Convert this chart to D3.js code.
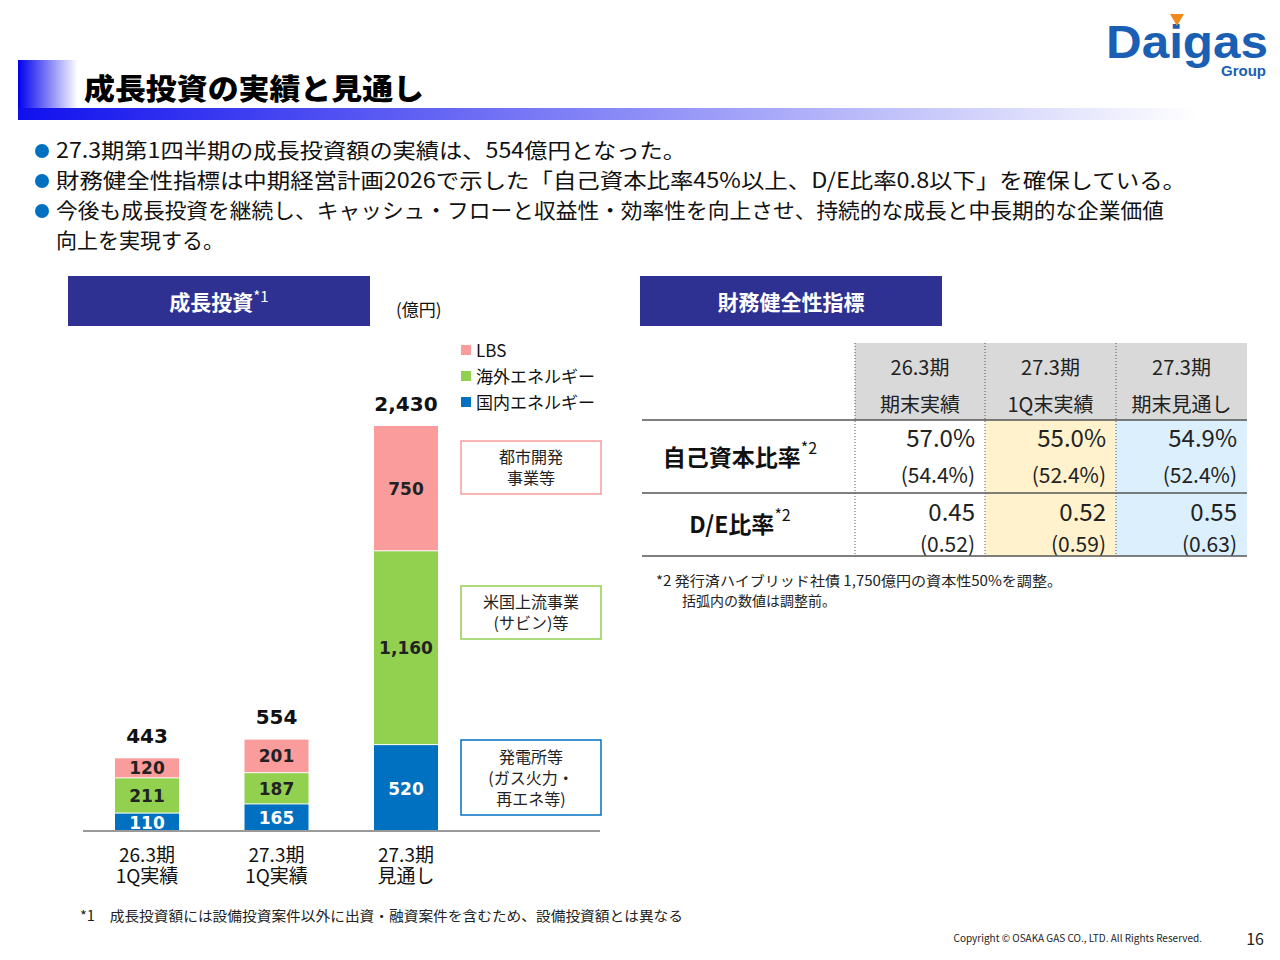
<!DOCTYPE html>
<html><head><meta charset="utf-8">
<script src="https://cdn.jsdelivr.net/npm/d3@7"></script>
<style>body{margin:0;background:#fff}svg{font-family:"Noto Sans CJK JP","Noto Sans",sans-serif}</style>
</head><body><svg id="c" width="1280" height="960"></svg>
<script>
const categories=[["26.3期","1Q実績"],["27.3期","1Q実績"],["27.3期","見通し"]];
const seriesNames=["国内エネルギー","海外エネルギー","LBS"];
const domestic=[110,165,520];
const overseas=[211,187,1160];
const lbs=[120,201,750];
const totals=[443,554,2430];
const colors=["#0070c0","#92d050","#fa9c9c"];
const tableCols=[["26.3期","期末実績"],["27.3期","1Q末実績"],["27.3期","期末見通し"]];
const equityRatio=["57.0%","55.0%","54.9%"];
const equityRatioRaw=["(54.4%)","(52.4%)","(52.4%)"];
const deRatio=["0.45","0.52","0.55"];
const deRatioRaw=["(0.52)","(0.59)","(0.63)"];

const svg=d3.select("#c");
const defs=svg.append("defs");
const g1=defs.append("linearGradient").attr("id","tg");
g1.append("stop").attr("offset","0").attr("stop-color","#0000ee");
g1.append("stop").attr("offset","0.05").attr("stop-color","#fff");
const g2=defs.append("linearGradient").attr("id","ug");
g2.append("stop").attr("offset","0").attr("stop-color","#1010ee");
g2.append("stop").attr("offset","1").attr("stop-color","#fff");
svg.append("rect").attr("x",18).attr("y",60).attr("width",1200).attr("height",48).attr("fill","url(#tg)");
svg.append("rect").attr("x",18).attr("y",108).attr("width",1180).attr("height",12).attr("fill","url(#ug)");
svg.append("text").attr("x",84).attr("y",100).attr("font-size",29).attr("font-weight",900).attr("fill","#000").attr("textLength",340).attr("lengthAdjust","spacingAndGlyphs").text("成長投資の実績と見通し");
svg.append("text").attr("x",1106).attr("y",58).attr("font-family","Liberation Sans,Arial").attr("font-weight",700).attr("font-size",46).attr("fill","#1a5fb4").attr("textLength",162).attr("lengthAdjust","spacingAndGlyphs").text("Daigas");
svg.append("path").attr("d","M1170,14 L1184,14 L1177,26Z").attr("fill","#f08a1c");
svg.append("text").attr("x",1266).attr("y",76).attr("text-anchor","end").attr("font-family","Liberation Sans,Arial").attr("font-weight",700).attr("font-size",15).attr("fill","#1a5fb4").text("Group");
const bullets=[["27.3期第1四半期の成長投資額の実績は、554億円となった。",158,630],["財務健全性指標は中期経営計画2026で示した「自己資本比率45%以上、D/E比率0.8以下」を確保している。",188,1130],["今後も成長投資を継続し、キャッシュ・フローと収益性・効率性を向上させ、持続的な成長と中長期的な企業価値",218,1108]];
bullets.forEach(b=>{svg.append("circle").attr("cx",42).attr("cy",b[1]-7).attr("r",7).attr("fill","#0070c0");
 svg.append("text").attr("x",56).attr("y",b[1]).attr("font-size",21).attr("fill","#111").attr("textLength",b[2]).attr("lengthAdjust","spacingAndGlyphs").text(b[0]);});
svg.append("text").attr("x",56).attr("y",248).attr("font-size",21).attr("fill","#111").text("向上を実現する。");
[[68,"成長投資"],[640,"財務健全性指標"]].forEach(h=>{svg.append("rect").attr("x",h[0]).attr("y",276).attr("width",302).attr("height",50).attr("fill","#2e3192");
 const t=svg.append("text").attr("x",h[0]+151).attr("y",310).attr("text-anchor","middle").attr("font-size",21).attr("font-weight",700).attr("fill","#fff").text(h[1]);
 if(h[0]===68)t.append("tspan").attr("dy",-8).attr("font-size",15).attr("font-weight",400).text("*1");});
svg.append("text").attr("x",396).attr("y",316).attr("font-size",17).attr("fill","#111").text("(億円)");
const x=d3.scalePoint().domain([0,1,2]).range([147,406]);
const y=d3.scaleLinear().domain([0,2430]).range([831,425]);
const stack=[domestic,overseas,lbs];
const bw=64;
[0,1,2].forEach(i=>{let cum=0;const cx=x(i);
 stack.forEach((s,k)=>{const v=s[i];
  svg.append("rect").attr("x",cx-bw/2).attr("y",y(cum+v)+1).attr("width",bw).attr("height",y(cum)-y(cum+v)-1).attr("fill",colors[k]);
  svg.append("text").attr("x",cx).attr("y",(y(cum)+y(cum+v))/2+7).attr("text-anchor","middle").attr("font-family","Verdana,DejaVu Sans").attr("font-weight",700).attr("font-size",17).attr("fill",k===0?"#fff":"#222").text(d3.format(",")(v));
  cum+=v;});
 svg.append("text").attr("x",cx).attr("y",y(totals[i])-14).attr("text-anchor","middle").attr("font-family","Verdana,DejaVu Sans").attr("font-weight",700).attr("font-size",20).attr("fill","#111").text(d3.format(",")(totals[i]));
 categories[i].forEach((c,j)=>svg.append("text").attr("x",cx).attr("y",862+j*21).attr("text-anchor","middle").attr("font-size",19).attr("fill","#111").text(c));
});
svg.append("line").attr("x1",83).attr("x2",600).attr("y1",831).attr("y2",831).attr("stroke","#999").attr("stroke-width",2);
[[2,"LBS"],[1,"海外エネルギー"],[0,"国内エネルギー"]].forEach((l,i)=>{svg.append("rect").attr("x",461).attr("y",345+i*26).attr("width",10).attr("height",10).attr("fill",colors[l[0]]);
 svg.append("text").attr("x",476).attr("y",357+i*26).attr("font-size",17).attr("fill","#111").text(l[1]);});
[[441,53,colors[2],["都市開発","事業等"]],[586,53,colors[1],["米国上流事業","(サビン)等"]],[740,75,colors[0],["発電所等","(ガス火力・","再エネ等)"]]].forEach(b=>{
 svg.append("rect").attr("x",461).attr("y",b[0]).attr("width",140).attr("height",b[1]).attr("fill","none").attr("stroke",b[2]).attr("stroke-width",1.5);
 const n=b[3].length,st=b[0]+b[1]/2-(n-1)*10.5+6;
 b[3].forEach((t,j)=>svg.append("text").attr("x",531).attr("y",st+j*21).attr("text-anchor","middle").attr("font-size",16).attr("fill","#222").text(t));});
svg.append("text").attr("x",80).attr("y",921).attr("font-size",14).attr("fill","#222").attr("textLength",603).attr("lengthAdjust","spacingAndGlyphs").text("*1　成長投資額には設備投資案件以外に出資・融資案件を含むため、設備投資額とは異なる");
const cx0=[855,985,1116,1247];
svg.append("rect").attr("x",855).attr("y",343).attr("width",392).attr("height",77).attr("fill","#d9d9d9");
svg.append("rect").attr("x",985).attr("y",420).attr("width",131).attr("height",136).attr("fill","#fff2cc");
svg.append("rect").attr("x",1116).attr("y",420).attr("width",131).attr("height",136).attr("fill","#dbeffd");
tableCols.forEach((c,i)=>{const m=(cx0[i]+cx0[i+1])/2;
 svg.append("text").attr("x",m).attr("y",375).attr("text-anchor","middle").attr("font-size",20).attr("fill","#222").text(c[0]);
 svg.append("text").attr("x",m).attr("y",412).attr("text-anchor","middle").attr("font-size",20).attr("fill","#222").text(c[1]);
 const r=cx0[i+1]-10;
 [[equityRatio[i],447,24],[equityRatioRaw[i],483,21],[deRatio[i],521,24],[deRatioRaw[i],552,21]].forEach(v=>svg.append("text").attr("x",r).attr("y",v[1]).attr("text-anchor","end").attr("font-size",v[2]).attr("fill","#222").text(v[0]));});
[855,985,1116].forEach(v=>svg.append("line").attr("x1",v).attr("x2",v).attr("y1",343).attr("y2",556).attr("stroke","#555").attr("stroke-dasharray","1,2"));
[420,493,556].forEach(v=>svg.append("line").attr("x1",642).attr("x2",1247).attr("y1",v).attr("y2",v).attr("stroke","#555").attr("stroke-width",1.5));
[["自己資本比率",466],["D/E比率",533]].forEach(r=>{const t=svg.append("text").attr("x",740).attr("y",r[1]).attr("text-anchor","middle").attr("font-size",23).attr("font-weight",700).attr("fill","#111").text(r[0]);
 t.append("tspan").attr("dy",-12).attr("font-size",16).attr("font-weight",400).text("*2");});
svg.append("text").attr("x",656).attr("y",586).attr("font-size",14).attr("fill","#222").attr("textLength",406).attr("lengthAdjust","spacingAndGlyphs").text("*2 発行済ハイブリッド社債 1,750億円の資本性50%を調整。");
svg.append("text").attr("x",682).attr("y",606).attr("font-size",14).attr("fill","#222").text("括弧内の数値は調整前。");
svg.append("text").attr("x",1202).attr("y",942).attr("text-anchor","end").attr("font-size",10).attr("fill","#222").text("Copyright © OSAKA GAS CO., LTD. All Rights Reserved.");
svg.append("text").attr("x",1264).attr("y",945).attr("text-anchor","end").attr("font-size",16).attr("fill","#222").text("16");
</script></body></html>
